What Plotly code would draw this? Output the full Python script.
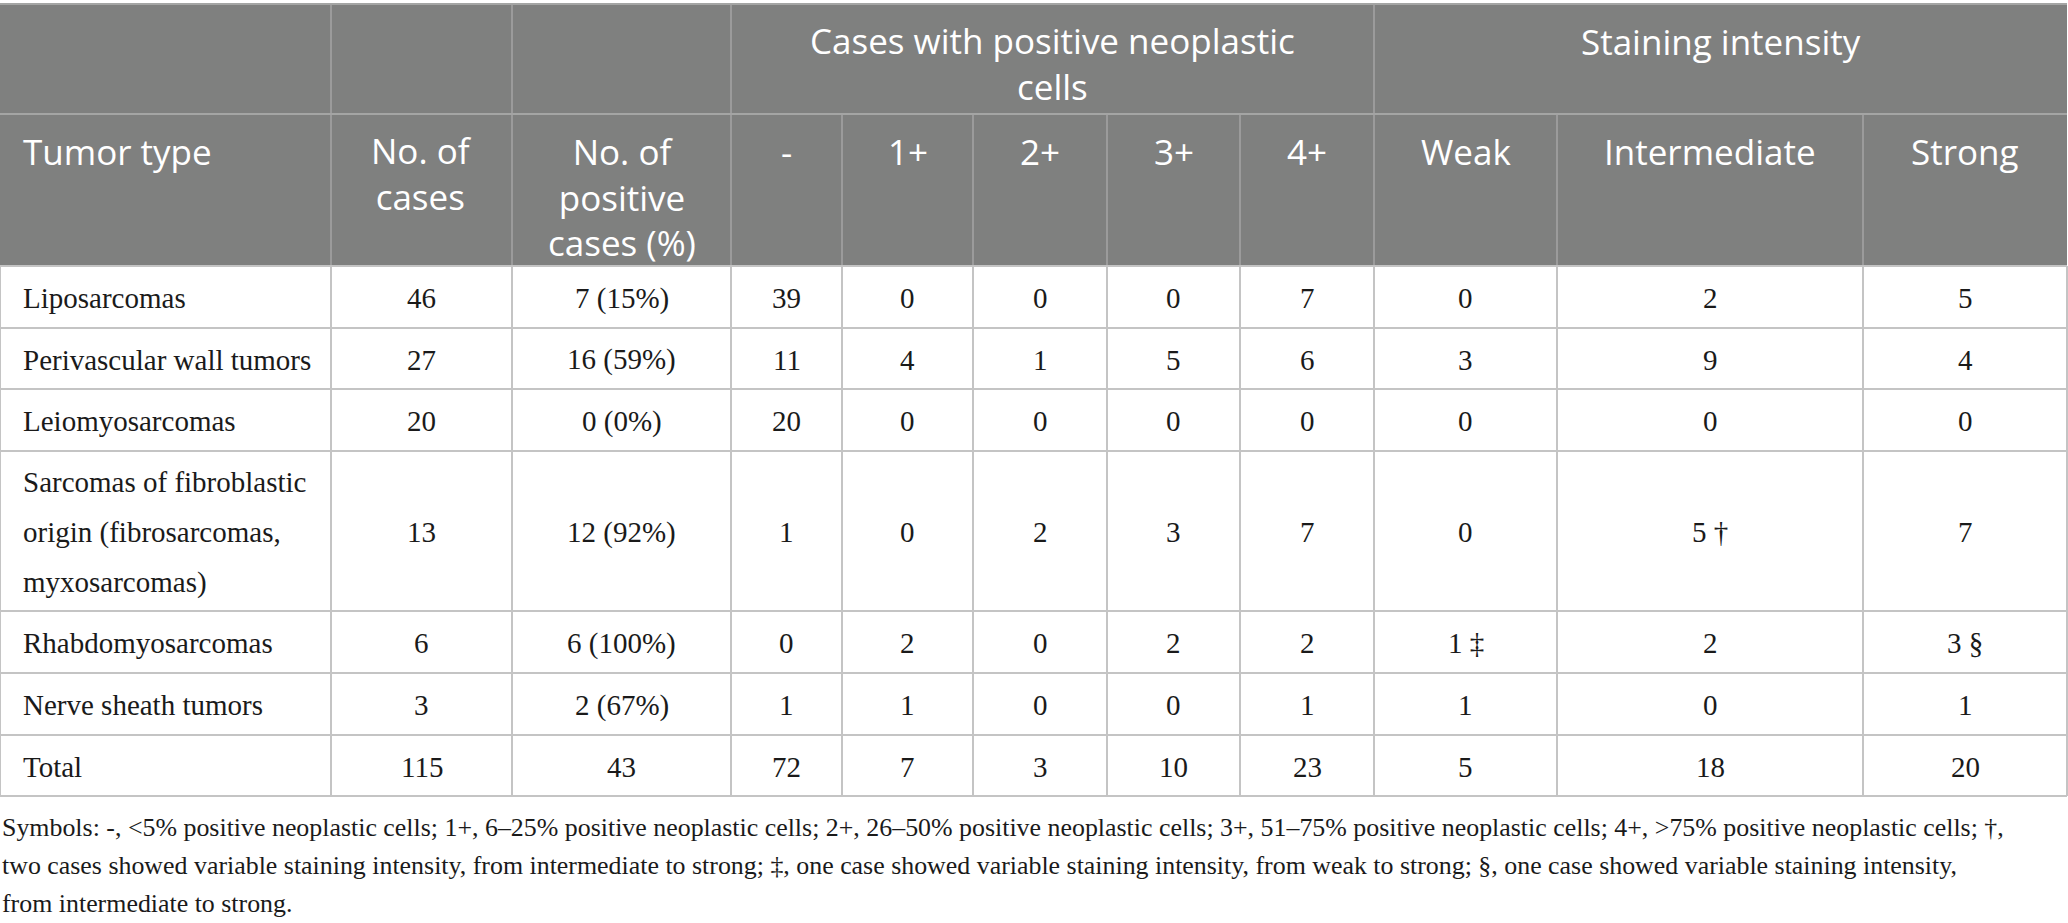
import plotly.graph_objects as go

# table content
tumor_types = [
    "Liposarcomas",
    "Perivascular wall tumors",
    "Leiomyosarcomas",
    "Sarcomas of fibroblastic\norigin (fibrosarcomas,\nmyxosarcomas)",
    "Rhabdomyosarcomas",
    "Nerve sheath tumors",
    "Total",
]
n_cases = [46, 27, 20, 13, 6, 3, 115]
n_positive = ["7 (15%)", "16 (59%)", "0 (0%)", "12 (92%)", "6 (100%)", "2 (67%)", "43"]
cells_neg = [39, 11, 20, 1, 0, 1, 72]
cells_1p = [0, 4, 0, 0, 2, 1, 7]
cells_2p = [0, 1, 0, 2, 0, 0, 3]
cells_3p = [0, 5, 0, 3, 2, 0, 10]
cells_4p = [7, 6, 0, 7, 2, 1, 23]
weak = ["0", "3", "0", "0", "1 ‡", "1", "5"]
intermediate = ["2", "9", "0", "5 †", "2", "0", "18"]
strong = ["5", "4", "0", "7", "3 §", "1", "20"]

col_headers = ["Tumor type", "No. of\ncases", "No. of\npositive\ncases (%)",
               "-", "1+", "2+", "3+", "4+", "Weak", "Intermediate", "Strong"]
group_headers = ["Cases with positive neoplastic\ncells", "Staining intensity"]
group_spans = [(3, 8), (8, 11)]

footnote = [
    "Symbols: -, <5% positive neoplastic cells; 1+, 6–25% positive neoplastic cells; 2+, 26–50% positive neoplastic cells; 3+, 51–75% positive neoplastic cells; 4+, >75% positive neoplastic cells; †,",
    "two cases showed variable staining intensity, from intermediate to strong; ‡, one case showed variable staining intensity, from weak to strong; §, one case showed variable staining intensity,",
    "from intermediate to strong.",
]

# geometry (pixels)
col_edges = [0, 331, 512, 731, 842, 973, 1107, 1240, 1374, 1557, 1863, 2067]
row_edges = [4, 114, 266, 328, 389, 451, 611, 673, 735, 796]

HEAD_BG = "#7f807f"
HEAD_LINE = "#a4a5a4"
GRID = "#c4c4c4"
TXT = "#1a1a1a"
HEAD_SIZE = 35
HEAD_FONT = dict(family="Open Sans", size=HEAD_SIZE, color="white")
BODY_FONT = dict(family="Liberation Serif", size=29, color=TXT)
NOTE_FONT = dict(family="Liberation Serif", size=25.9, color=TXT)

columns = [tumor_types, n_cases, n_positive, cells_neg, cells_1p, cells_2p,
           cells_3p, cells_4p, weak, intermediate, strong]

fig = go.Figure()
shapes = []
annotations = []


def add_body_text(x, y, text, xanchor="center", spacing=50):
    lines = str(text).split("\n")
    y0 = y - spacing * (len(lines) - 1) / 2
    for i, ln in enumerate(lines):
        annotations.append(dict(x=x, y=y0 + i * spacing, text=ln, showarrow=False,
                                xref="x", yref="y", xanchor=xanchor, yanchor="middle",
                                font=BODY_FONT))


def add_head_text(x, y_first, text, xanchor="center"):
    # header labels hang from the top of the cell; plotly spaces lines at 1.3em
    lines = text.split("\n")
    yc = y_first + 1.3 * HEAD_SIZE * (len(lines) - 1) / 2
    annotations.append(dict(x=x, y=yc, text="<br>".join(lines), showarrow=False,
                            xref="x", yref="y", xanchor=xanchor, yanchor="middle",
                            align=xanchor if xanchor != "center" else "center",
                            font=HEAD_FONT))


def hline(y, x0, x1, color, w):
    shapes.append(dict(type="line", xref="x", yref="y", x0=x0, x1=x1, y0=y, y1=y,
                       line=dict(color=color, width=w)))


def vline(x, y0, y1, color, w):
    shapes.append(dict(type="line", xref="x", yref="y", x0=x, x1=x, y0=y0, y1=y1,
                       line=dict(color=color, width=w)))


# header block
shapes.append(dict(type="rect", xref="x", yref="y", x0=col_edges[0], x1=col_edges[-1],
                   y0=row_edges[0], y1=row_edges[2], fillcolor=HEAD_BG, line_width=0,
                   layer="below"))
hline(row_edges[0], col_edges[0], col_edges[-1], HEAD_LINE, 2)
hline(row_edges[1], col_edges[0], col_edges[-1], HEAD_LINE, 2)
for k in [1, 2, 3, 8]:
    vline(col_edges[k], row_edges[0], row_edges[1], HEAD_LINE, 1.5)
for k in range(1, len(col_edges) - 1):
    vline(col_edges[k], row_edges[1], row_edges[2], HEAD_LINE, 1.5)

for (a, b), label in zip(group_spans, group_headers):
    add_head_text((col_edges[a] + col_edges[b]) / 2, row_edges[0] + 37, label)

for k, label in enumerate(col_headers):
    if k == 0:
        add_head_text(col_edges[0] + 21, row_edges[1] + 37, label, xanchor="left")
    else:
        add_head_text((col_edges[k] + col_edges[k + 1]) / 2, row_edges[1] + 37, label)

# body grid
body_top = row_edges[2]
for y in row_edges[2:]:
    hline(y, col_edges[0], col_edges[-1], GRID, 2)
for x in col_edges:
    vline(x, body_top, row_edges[-1], GRID, 2)

for r in range(len(tumor_types)):
    yc = (row_edges[r + 2] + row_edges[r + 3]) / 2 + 1
    for k, col in enumerate(columns):
        if k == 0:
            add_body_text(col_edges[0] + 21, yc, col[r], xanchor="left")
        else:
            add_body_text((col_edges[k] + col_edges[k + 1]) / 2, yc, col[r])

# footnote
for i, ln in enumerate(footnote):
    annotations.append(dict(x=0, y=827 + 38 * i, text=ln, showarrow=False,
                            xref="x", yref="y", xanchor="left", yanchor="middle",
                            font=NOTE_FONT))

fig.update_layout(
    width=2068, height=923,
    margin=dict(l=0, r=0, t=0, b=0),
    paper_bgcolor="white", plot_bgcolor="white",
    xaxis=dict(range=[0, 2068], visible=False, fixedrange=True),
    yaxis=dict(range=[923, 0], visible=False, fixedrange=True),
    shapes=shapes, annotations=annotations,
    showlegend=False,
)

fig.write_html("out.html", config={"displayModeBar": False},
               post_script="document.body.style.margin='0';")
